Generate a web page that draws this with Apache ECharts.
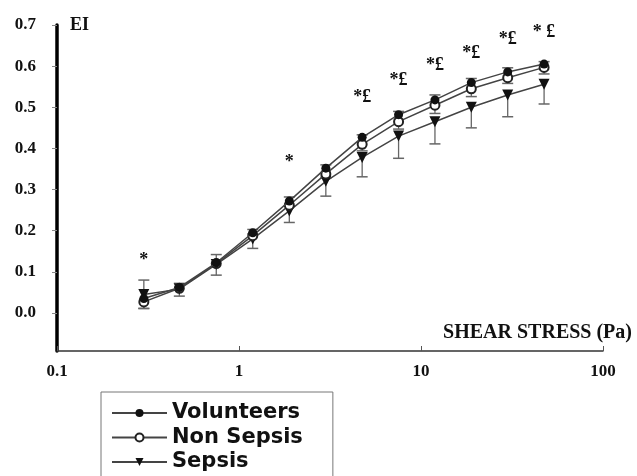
<!DOCTYPE html>
<html><head><meta charset="utf-8">
<script src="https://cdn.jsdelivr.net/npm/echarts@6/dist/echarts.min.js"></script>
<style>html,body{margin:0;padding:0;background:#fff}#c{width:637px;height:476px}</style>
</head><body><div id="c"></div>
<script>
// shear stress (Pa)
const shearStress = [0.30, 0.47, 0.75, 1.19, 1.89, 3.00, 4.75, 7.53, 11.93, 18.90, 29.95, 47.46];
// EI values
const volunteers = [0.035, 0.062, 0.122, 0.195, 0.272, 0.352, 0.427, 0.482, 0.518, 0.560, 0.586, 0.605];
const nonSepsis  = [0.027, 0.060, 0.120, 0.188, 0.262, 0.338, 0.410, 0.465, 0.505, 0.545, 0.572, 0.597];
const sepsis     = [0.045, 0.058, 0.118, 0.180, 0.248, 0.320, 0.378, 0.430, 0.465, 0.500, 0.530, 0.556];
// error bars (one-sided)
const volunteersErrUp   = [0.000, 0.010, 0.020, 0.008, 0.010, 0.008, 0.006, 0.008, 0.012, 0.010, 0.010, 0.006];
const nonSepsisErrDown  = [0.016, 0.000, 0.000, 0.000, 0.000, 0.010, 0.016, 0.018, 0.020, 0.019, 0.014, 0.016];
const sepsisErrDown     = [0.034, 0.017, 0.026, 0.023, 0.028, 0.036, 0.047, 0.054, 0.054, 0.050, 0.053, 0.048];
const sepsisErrUp       = [0.035, 0.000, 0.000, 0.000, 0.000, 0.000, 0.000, 0.000, 0.000, 0.000, 0.000, 0.000];
// significance annotations
const annotX    = [0.30, 1.89, 4.75, 7.53, 11.93, 18.90, 29.95, 47.46];
const annotY    = [0.129, 0.365, 0.525, 0.566, 0.603, 0.632, 0.664, 0.681];
const annotText = ['*', '*', '*£', '*£', '*£', '*£', '*£', '* £'];
// axis ticks
const yTicks = [0, 0.1, 0.2, 0.3, 0.4, 0.5, 0.6, 0.7];
const xTickLabels = ['0.1', '1', '10', '100'];

const zip = (xs, ys) => xs.map((x, i) => [x, ys[i]]);
const errData = [];
function addErr(vals, errs, sign) {
  shearStress.forEach((x, i) => { if (errs[i] > 0) errData.push([x, vals[i], vals[i] + sign * errs[i]]); });
}
addErr(volunteers, volunteersErrUp, 1);
addErr(nonSepsis, nonSepsisErrDown, -1);
addErr(sepsis, sepsisErrDown, -1);
addErr(sepsis, sepsisErrUp, 1);

const serif = 'Liberation Serif';
const chart = echarts.init(document.getElementById('c'));
chart.setOption({
  animation: false,
  backgroundColor: '#fff',
  grid: { left: 57, right: 34, top: 25, bottom: 125 },
  xAxis: {
    type: 'log', logBase: 10, min: 0.1, max: 100,
    axisLine: { onZero: false, lineStyle: { color: '#333', width: 1.5 } },
    axisTick: { inside: true, length: 5, lineStyle: { color: '#555' } },
    minorTick: { show: false },
    splitLine: { show: false },
    axisLabel: {
      margin: 12, color: '#111', fontFamily: serif, fontWeight: 'bold', fontSize: 17,
      formatter: v => xTickLabels[Math.round(Math.log10(v)) + 1]
    }
  },
  yAxis: {
    type: 'value', min: -0.0924, max: 0.7,
    axisLine: { onZero: false, lineStyle: { color: '#000', width: 3.5 } },
    axisTick: { customValues: yTicks, length: 5, lineStyle: { color: '#888' } },
    splitLine: { show: false },
    axisLabel: {
      customValues: yTicks, margin: 21, color: '#111', fontFamily: serif, fontWeight: 'bold', fontSize: 17,
      formatter: v => v.toFixed(1)
    }
  },
  legend: {
    data: ['Volunteers', 'Non Sepsis', 'Sepsis'],
    orient: 'vertical', left: 101, top: 392, height: 120,
    itemWidth: 55, itemHeight: 10, itemGap: 0.5,
    padding: [9, 30, 30, 10],
    borderColor: '#777', borderWidth: 1,
    textStyle: { fontFamily: 'DejaVu Sans', fontWeight: 'bold', fontSize: 21, lineHeight: 24, color: '#111' }
  },
  graphic: [
    { type: 'text', left: 70, top: 16, style: { text: 'EI', font: 'bold 18px "Liberation Serif"', fill: '#111' } },
    { type: 'text', x: 632, y: 333, style: { text: 'SHEAR STRESS (Pa)', font: 'bold 20px "Liberation Serif"', fill: '#111', align: 'right', verticalAlign: 'middle' } }
  ],
  series: [
    {
      type: 'custom', name: 'err', z: 1, data: errData,
      renderItem: (params, api) => {
        const p0 = api.coord([api.value(0), api.value(1)]);
        const p1 = api.coord([api.value(0), api.value(2)]);
        return { type: 'group', children: [
          { type: 'line', shape: { x1: p0[0], y1: p0[1], x2: p1[0], y2: p1[1] }, style: { stroke: '#666', lineWidth: 1.3 } },
          { type: 'line', shape: { x1: p1[0] - 5.5, y1: p1[1], x2: p1[0] + 5.5, y2: p1[1] }, style: { stroke: '#666', lineWidth: 1.5 } }
        ]};
      }
    },
    {
      type: 'line', name: 'Volunteers', z: 5, data: zip(shearStress, volunteers),
      symbol: 'circle', symbolSize: 9,
      itemStyle: { color: '#111' }, lineStyle: { color: '#444', width: 1.5 }
    },
    {
      type: 'line', name: 'Non Sepsis', z: 4, data: zip(shearStress, nonSepsis),
      symbol: 'emptyCircle', symbolSize: 9,
      itemStyle: { color: '#222', borderWidth: 1.3 }, lineStyle: { color: '#444', width: 1.5 }
    },
    {
      type: 'line', name: 'Sepsis', z: 3, data: zip(shearStress, sepsis),
      symbol: 'triangle', symbolRotate: 180, symbolSize: 11,
      itemStyle: { color: '#111' }, lineStyle: { color: '#444', width: 1.5 }
    },
    {
      type: 'custom', name: 'annot', z: 6, data: annotX.map((x, i) => [x, annotY[i], annotText[i]]),
      renderItem: (params, api) => {
        const p = api.coord([api.value(0), api.value(1)]);
        return { type: 'text', x: p[0], y: p[1], style: { text: annotText[params.dataIndex], font: 'bold 18px "Liberation Serif"', fill: '#111', align: 'center', verticalAlign: 'middle' } };
      }
    }
  ]
});
</script></body></html>
